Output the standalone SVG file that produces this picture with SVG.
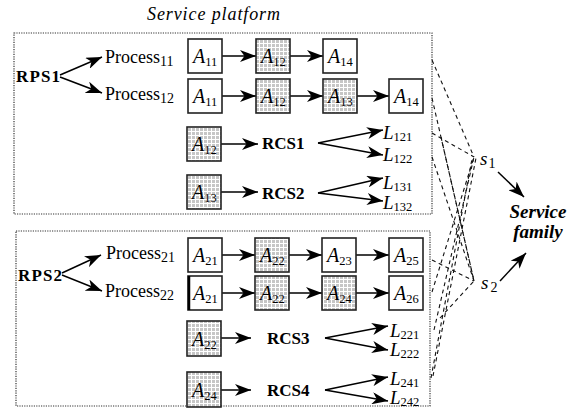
<svg xmlns="http://www.w3.org/2000/svg" width="579" height="416" viewBox="0 0 579 416">
<defs>
<style>
text{font-family:"Liberation Serif","Times New Roman",Times,"DejaVu Serif",serif;fill:#000}
.it{font-style:italic}
.b{font-weight:bold}
.sub{font-style:normal;font-size:14px}
.asub{font-style:normal;font-size:12.5px}
.box{fill:#fff;stroke:#222;stroke-width:1.6}
.sh{fill:url(#dots);stroke:#222;stroke-width:1.6}
.ar{stroke:#000;stroke-width:1.5;fill:none;marker-end:url(#ah)}
.frame{fill:none;stroke:#333;stroke-width:1.2;stroke-dasharray:1.2 1.2}
.dash{stroke:#111;stroke-width:1.1;stroke-dasharray:4 3.5;fill:none}
</style>
<pattern id="dots" width="4" height="4" patternUnits="userSpaceOnUse">
<rect width="4" height="4" fill="#fff"/>
<rect width="3" height="3" fill="#c6c6c6"/>
</pattern>
<marker id="ah" markerUnits="userSpaceOnUse" markerWidth="17" markerHeight="12" refX="16" refY="6" orient="auto">
<path d="M0,0 L16,6 L0,12 L4.5,6 z" fill="#000"/>
</marker>
</defs>

<text class="it" x="147" y="20" font-size="18" textLength="133">Service platform</text>

<rect class="frame" x="14" y="33" width="418" height="181"/>
<rect class="frame" x="16" y="231" width="414" height="175"/>

<g id="connectors">
<line class="ar" x1="60" y1="75" x2="102" y2="57"/>
<line class="ar" x1="60" y1="77" x2="102" y2="93"/>
<line class="ar" x1="222" y1="56" x2="256" y2="56"/>
<line class="ar" x1="290" y1="56" x2="323" y2="56"/>
<line class="ar" x1="222" y1="96" x2="256" y2="96"/>
<line class="ar" x1="290" y1="96" x2="323" y2="96"/>
<line class="ar" x1="357" y1="96" x2="389" y2="96"/>
<line class="ar" x1="221" y1="144" x2="258" y2="144"/>
<line class="ar" x1="221" y1="192" x2="258" y2="192"/>
<line class="ar" x1="318" y1="143" x2="383" y2="130"/>
<line class="ar" x1="318" y1="143" x2="383" y2="155"/>
<line class="ar" x1="318" y1="193" x2="383" y2="178"/>
<line class="ar" x1="318" y1="193" x2="383" y2="201"/>

<line class="ar" x1="62" y1="273" x2="101" y2="255"/>
<line class="ar" x1="62" y1="275" x2="102" y2="291"/>
<line class="ar" x1="222" y1="255" x2="255" y2="255"/>
<line class="ar" x1="289" y1="255" x2="322" y2="255"/>
<line class="ar" x1="356" y1="255" x2="389" y2="255"/>
<line class="ar" x1="222" y1="293" x2="255" y2="293"/>
<line class="ar" x1="289" y1="293" x2="322" y2="293"/>
<line class="ar" x1="356" y1="293" x2="389" y2="293"/>
<line class="ar" x1="221" y1="338" x2="251" y2="338"/>
<line class="ar" x1="221" y1="390" x2="251" y2="390"/>
<line class="ar" x1="325" y1="338" x2="388" y2="326"/>
<line class="ar" x1="325" y1="338" x2="388" y2="350"/>
<line class="ar" x1="325" y1="390" x2="388" y2="377"/>
<line class="ar" x1="325" y1="390" x2="388" y2="401"/>

<line class="dash" x1="432" y1="60" x2="474" y2="157"/>
<line class="dash" x1="432" y1="133" x2="474" y2="157"/>
<line class="dash" x1="432" y1="292" x2="474" y2="157"/>
<line class="dash" x1="434" y1="330" x2="474" y2="157"/>
<line class="dash" x1="431" y1="378" x2="472" y2="159"/>
<line class="dash" x1="433" y1="376" x2="476" y2="158"/>

<line class="dash" x1="432" y1="98" x2="474" y2="281"/>
<line class="dash" x1="441" y1="137" x2="474" y2="281"/>
<line class="dash" x1="432" y1="157" x2="474" y2="281"/>
<line class="dash" x1="432" y1="260" x2="474" y2="281"/>
<line class="dash" x1="440" y1="318" x2="474" y2="281"/>

<line class="ar" x1="498" y1="172" x2="524" y2="197"/>
<line class="ar" x1="500" y1="281" x2="526" y2="253"/>
</g>

<g id="rps1"><text class="b" x="16" y="82" font-size="17" textLength="44">RPS1</text></g>
<g id="p11"><text x="105" y="63" font-size="18">Process<tspan class="sub" dy="3">11</tspan></text></g>
<g id="p12"><text x="105" y="100" font-size="18">Process<tspan class="sub" dy="3">12</tspan></text></g>

<g id="r1a11"><rect class="box" x="188" y="39" width="34" height="34"/><text class="it" x="193" y="63" font-size="20">A<tspan class="asub" dy="3">11</tspan></text></g>
<g id="r1a12"><rect class="sh" x="256" y="39" width="34" height="34"/><text class="it" x="261" y="63" font-size="20">A<tspan class="asub" dy="3">12</tspan></text></g>
<g id="r1a14"><rect class="box" x="323" y="39" width="34" height="34"/><text class="it" x="328" y="63" font-size="20">A<tspan class="asub" dy="3">14</tspan></text></g>

<g id="r2a11"><rect class="box" x="188" y="79" width="34" height="34"/><text class="it" x="193" y="103" font-size="20">A<tspan class="asub" dy="3">11</tspan></text></g>
<g id="r2a12"><rect class="sh" x="256" y="79" width="34" height="34"/><text class="it" x="261" y="103" font-size="20">A<tspan class="asub" dy="3">12</tspan></text></g>
<g id="r2a13"><rect class="sh" x="323" y="79" width="34" height="34"/><text class="it" x="328" y="103" font-size="20">A<tspan class="asub" dy="3">13</tspan></text></g>
<g id="r2a14"><rect class="box" x="389" y="79" width="34" height="34"/><text class="it" x="394" y="103" font-size="20">A<tspan class="asub" dy="3">14</tspan></text></g>

<g id="r3a12"><rect class="sh" x="187" y="127" width="34" height="34"/><text class="it" x="192" y="151" font-size="20">A<tspan class="asub" dy="3">12</tspan></text></g>
<g id="rcs1"><text class="b" x="262" y="149" font-size="17">RCS1</text></g>
<g id="l121"><text class="it" x="383" y="139" font-size="19">L<tspan class="asub" dy="2">121</tspan></text></g>
<g id="l122"><text class="it" x="383" y="161" font-size="19">L<tspan class="asub" dy="2">122</tspan></text></g>

<g id="r4a13"><rect class="sh" x="187" y="175" width="34" height="34"/><text class="it" x="192" y="199" font-size="20">A<tspan class="asub" dy="3">13</tspan></text></g>
<g id="rcs2"><text class="b" x="262" y="199" font-size="17">RCS2</text></g>
<g id="l131"><text class="it" x="383" y="189" font-size="19">L<tspan class="asub" dy="2">131</tspan></text></g>
<g id="l132"><text class="it" x="383" y="209" font-size="19">L<tspan class="asub" dy="2">132</tspan></text></g>

<g id="rps2"><text class="b" x="18" y="281" font-size="17" textLength="44">RPS2</text></g>
<g id="p21"><text x="106" y="259" font-size="18">Process<tspan class="sub" dy="3">21</tspan></text></g>
<g id="p22"><text x="105" y="297" font-size="18">Process<tspan class="sub" dy="3">22</tspan></text></g>

<g id="b1a21"><rect class="box" x="188" y="238" width="34" height="34"/><text class="it" x="193" y="262" font-size="20">A<tspan class="asub" dy="3">21</tspan></text></g>
<g id="b1a22"><rect class="sh" x="255" y="238" width="34" height="34"/><text class="it" x="260" y="262" font-size="20">A<tspan class="asub" dy="3">22</tspan></text></g>
<g id="b1a23"><rect class="box" x="322" y="238" width="34" height="34"/><text class="it" x="327" y="262" font-size="20">A<tspan class="asub" dy="3">23</tspan></text></g>
<g id="b1a25"><rect class="box" x="389" y="238" width="34" height="34"/><text class="it" x="394" y="262" font-size="20">A<tspan class="asub" dy="3">25</tspan></text></g>

<g id="b2a21"><rect class="box" x="188" y="276" width="34" height="34"/><line x1="189" y1="276" x2="189" y2="310" stroke="#000" stroke-width="2.5"/><text class="it" x="193" y="300" font-size="20">A<tspan class="asub" dy="3">21</tspan></text></g>
<g id="b2a22"><rect class="sh" x="255" y="276" width="34" height="34"/><text class="it" x="260" y="300" font-size="20">A<tspan class="asub" dy="3">22</tspan></text></g>
<g id="b2a24"><rect class="sh" x="322" y="276" width="34" height="34"/><text class="it" x="327" y="300" font-size="20">A<tspan class="asub" dy="3">24</tspan></text></g>
<g id="b2a26"><rect class="box" x="389" y="276" width="34" height="34"/><text class="it" x="394" y="300" font-size="20">A<tspan class="asub" dy="3">26</tspan></text></g>

<g id="b3a22"><rect class="sh" x="187" y="321" width="34" height="35"/><text class="it" x="192" y="346" font-size="20">A<tspan class="asub" dy="3">22</tspan></text></g>
<g id="rcs3"><text class="b" x="267" y="344" font-size="17">RCS3</text></g>
<g id="l221"><text class="it" x="390" y="337" font-size="19">L<tspan class="asub" dy="2">221</tspan></text></g>
<g id="l222"><text class="it" x="390" y="356" font-size="19">L<tspan class="asub" dy="2">222</tspan></text></g>

<g id="b4a24"><rect class="sh" x="187" y="372" width="34" height="35"/><text class="it" x="192" y="397" font-size="20">A<tspan class="asub" dy="3">24</tspan></text></g>
<g id="rcs4"><text class="b" x="267" y="396" font-size="17">RCS4</text></g>
<g id="l241"><text class="it" x="390" y="385" font-size="19">L<tspan class="asub" dy="2">241</tspan></text></g>
<g id="l242"><text class="it" x="390" y="404" font-size="19">L<tspan class="asub" dy="2">242</tspan></text></g>

<g id="s1"><text class="it" x="480" y="165" font-size="19">s<tspan class="sub" dy="3" dx="1">1</tspan></text></g>
<g id="s2"><text class="it" x="481" y="289" font-size="19">s<tspan class="sub" dy="3" dx="2">2</tspan></text></g>

<g id="family"><text class="it b" x="538" y="218" font-size="19" text-anchor="middle">Service</text><text class="it b" x="538" y="238" font-size="19" text-anchor="middle">family</text></g>
</svg>
